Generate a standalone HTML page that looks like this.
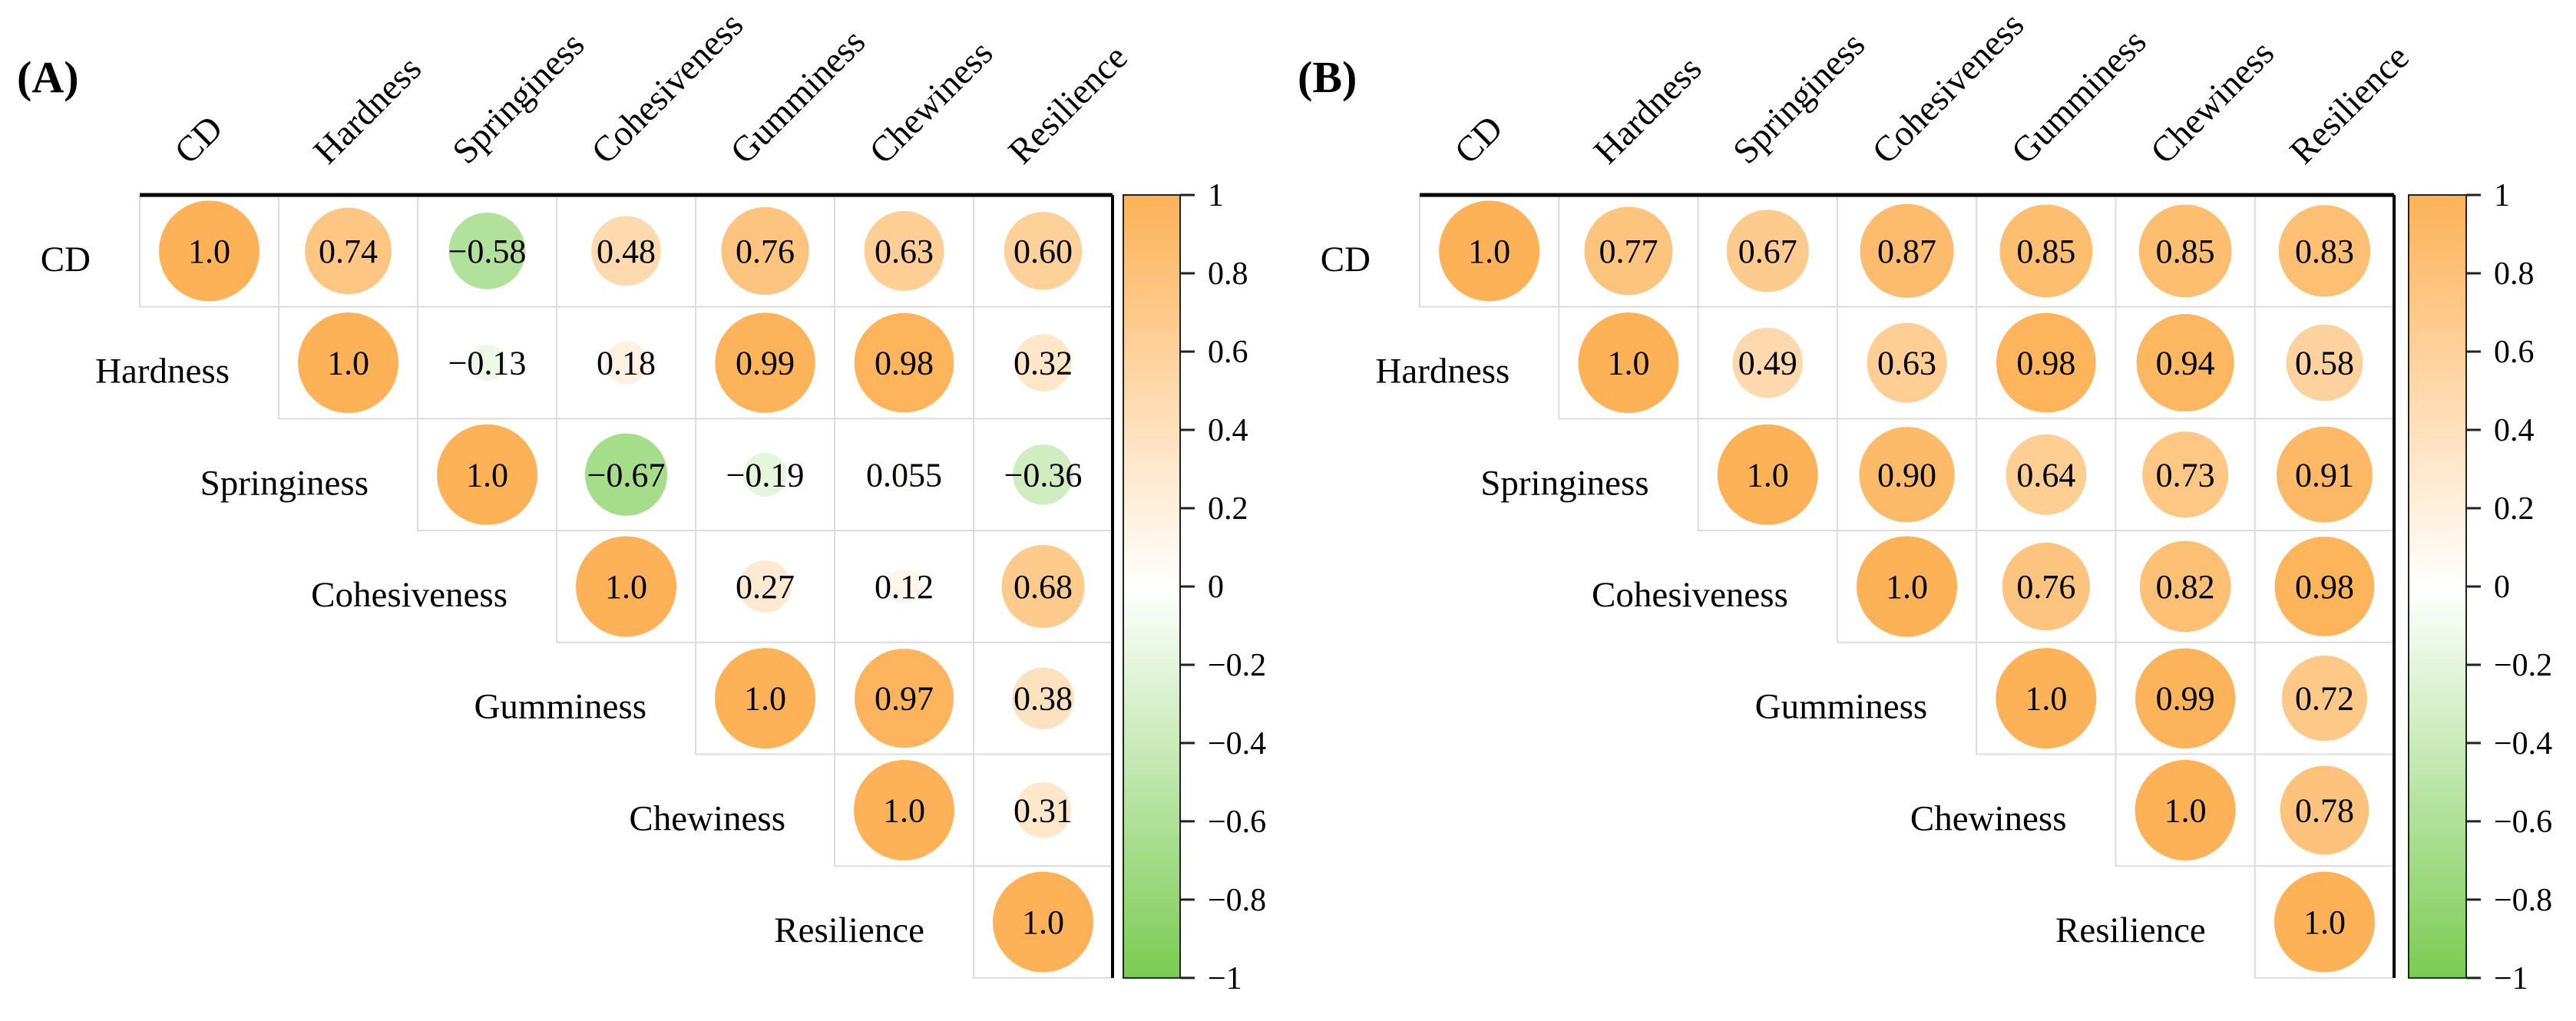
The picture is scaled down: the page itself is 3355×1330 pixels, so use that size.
<!DOCTYPE html>
<html><head><meta charset="utf-8"><style>
html,body{margin:0;padding:0;background:#fff;}
svg{display:block;}
svg text{font-family:"Liberation Serif","Times New Roman",serif;}
</style></head><body>
<svg id="chart" width="3355" height="1330" viewBox="0 0 3355 1330" xmlns="http://www.w3.org/2000/svg" font-family="Liberation Serif, Times New Roman, serif"></svg>
<script>
const variables = ["CD","Hardness","Springiness","Cohesiveness","Gumminess","Chewiness","Resilience"];
const corrA = [
 [1.0,0.74,-0.58,0.48,0.76,0.63,0.60],
 [null,1.0,-0.13,0.18,0.99,0.98,0.32],
 [null,null,1.0,-0.67,-0.19,0.055,-0.36],
 [null,null,null,1.0,0.27,0.12,0.68],
 [null,null,null,null,1.0,0.97,0.38],
 [null,null,null,null,null,1.0,0.31],
 [null,null,null,null,null,null,1.0]
];
const labelsA = [
 ["1.0","0.74","\u22120.58","0.48","0.76","0.63","0.60"],
 [null,"1.0","\u22120.13","0.18","0.99","0.98","0.32"],
 [null,null,"1.0","\u22120.67","\u22120.19","0.055","\u22120.36"],
 [null,null,null,"1.0","0.27","0.12","0.68"],
 [null,null,null,null,"1.0","0.97","0.38"],
 [null,null,null,null,null,"1.0","0.31"],
 [null,null,null,null,null,null,"1.0"]
];
const corrB = [
 [1.0,0.77,0.67,0.87,0.85,0.85,0.83],
 [null,1.0,0.49,0.63,0.98,0.94,0.58],
 [null,null,1.0,0.90,0.64,0.73,0.91],
 [null,null,null,1.0,0.76,0.82,0.98],
 [null,null,null,null,1.0,0.99,0.72],
 [null,null,null,null,null,1.0,0.78],
 [null,null,null,null,null,null,1.0]
];
const labelsB = [
 ["1.0","0.77","0.67","0.87","0.85","0.85","0.83"],
 [null,"1.0","0.49","0.63","0.98","0.94","0.58"],
 [null,null,"1.0","0.90","0.64","0.73","0.91"],
 [null,null,null,"1.0","0.76","0.82","0.98"],
 [null,null,null,null,"1.0","0.99","0.72"],
 [null,null,null,null,null,"1.0","0.78"],
 [null,null,null,null,null,null,"1.0"]
];
const colorbarTicks = [1,0.8,0.6,0.4,0.2,0,-0.2,-0.4,-0.6,-0.8,-1];
const colorbarTickLabels = ["1","0.8","0.6","0.4","0.2","0","\u22120.2","\u22120.4","\u22120.6","\u22120.8","\u22121"];

const NS="http://www.w3.org/2000/svg";
const FONT='"Liberation Serif", "Times New Roman", serif';
const svg=document.getElementById('chart');
function mk(tag,attrs,parent){const e=document.createElementNS(NS,tag);for(const k in attrs)e.setAttribute(k,attrs[k]);if(tag==='text')e.setAttribute('font-family',FONT);(parent||svg).appendChild(e);return e;}
function color(v){
  const t=Math.min(1,Math.abs(v));
  let c;
  if(v>=0) c=[255-t*2,255-t*77,255-t*168];
  else c=[255-t*133,255-t*51,255-t*173];
  return `rgb(${c.map(Math.round).join(',')})`;
}
function panel(cfg){
  const {left,cellW,top,cellH,cbL,cbR,title,titleX,corr,labels,id}=cfg;
  const n=variables.length;
  const bottom=top+n*cellH, right=left+n*cellW;
  const x=j=>left+j*cellW, y=i=>top+i*cellH;
  const cbY=v=>top+(1-v)/2*(bottom-top);
  const g=mk('g',{});
  
  
  const t=mk('text',{x:titleX,y:120,'font-size':58,'font-weight':'bold'},g);
  t.textContent=title;
  
  
  for(let i=0;i<n;i++){
    for(let j=i;j<n;j++){
      const r=mk('rect',{x:x(j),y:y(i),width:cellW,height:cellH,fill:'#fff',stroke:'#dcdcdc','stroke-width':2},g);
      
      
    }
  }
  for(let i=0;i<n;i++){
    for(let j=i;j<n;j++){
      const v=corr[i][j];
      const cx=x(j)+cellW/2, cy=y(i)+cellH/2;
      const rad=65.5*Math.sqrt(Math.abs(v));
      const c=mk('circle',{cx:cx,cy:cy,r:rad,fill:color(v)},g);
      
      
      const tx=mk('text',{x:cx,y:cy+15,'font-size':44,'text-anchor':'middle',fill:'#000'},g);
      tx.textContent=labels[i][j];
      
      
    }
  }
  for(let i=0;i<n;i++){
    const tl=mk('text',{x:x(i)-64,y:y(i)+cellH/2+26,'font-size':47,'text-anchor':'end'},g);
    tl.textContent=variables[i];
    
    
  }
  for(let j=0;j<n;j++){
    const px=x(j)+cellW/2-26, py=216;
    const tl=mk('text',{x:px,y:py,'font-size':47,transform:`rotate(-45 ${px} ${py})`},g);
    tl.textContent=variables[j];
    
    
  }
  const tb=mk('line',{x1:left,y1:top,x2:right,y2:top,stroke:'#000','stroke-width':5},g);
  
  
  const rb=mk('line',{x1:right,y1:top,x2:right,y2:bottom,stroke:'#000','stroke-width':4},g);
  
  
  const gid='grad'+id;
  const defs=mk('defs',{},g);
  const lg=mk('linearGradient',{id:gid,x1:0,y1:0,x2:0,y2:1},defs);
  for(let k=0;k<=20;k++){const v=1-k/10;mk('stop',{offset:(k/20),'stop-color':color(v)},lg);}
  const cb=mk('rect',{x:cbL,y:top,width:cbR-cbL,height:bottom-top,fill:`url(#${gid})`,stroke:'#222','stroke-width':2},g);
  
  
  colorbarTicks.forEach((v,k)=>{
    const ty=cbY(v);
    const tk=mk('line',{x1:cbR,y1:ty,x2:cbR+19,y2:ty,stroke:'#222','stroke-width':3},g);
    
    
    const tl=mk('text',{x:cbR+36,y:ty+14,'font-size':42},g);
    tl.textContent=colorbarTickLabels[k];
    
    
  });
}
panel({id:'a',title:'(A)',titleX:22,left:182,cellW:181,top:254,cellH:145.7,cbL:1463,cbR:1537,corr:corrA,labels:labelsA});
panel({id:'b',title:'(B)',titleX:1690,left:1849,cellW:181.3,top:254,cellH:145.7,cbL:3137,cbR:3212,corr:corrB,labels:labelsB});
</script>
</body></html>
